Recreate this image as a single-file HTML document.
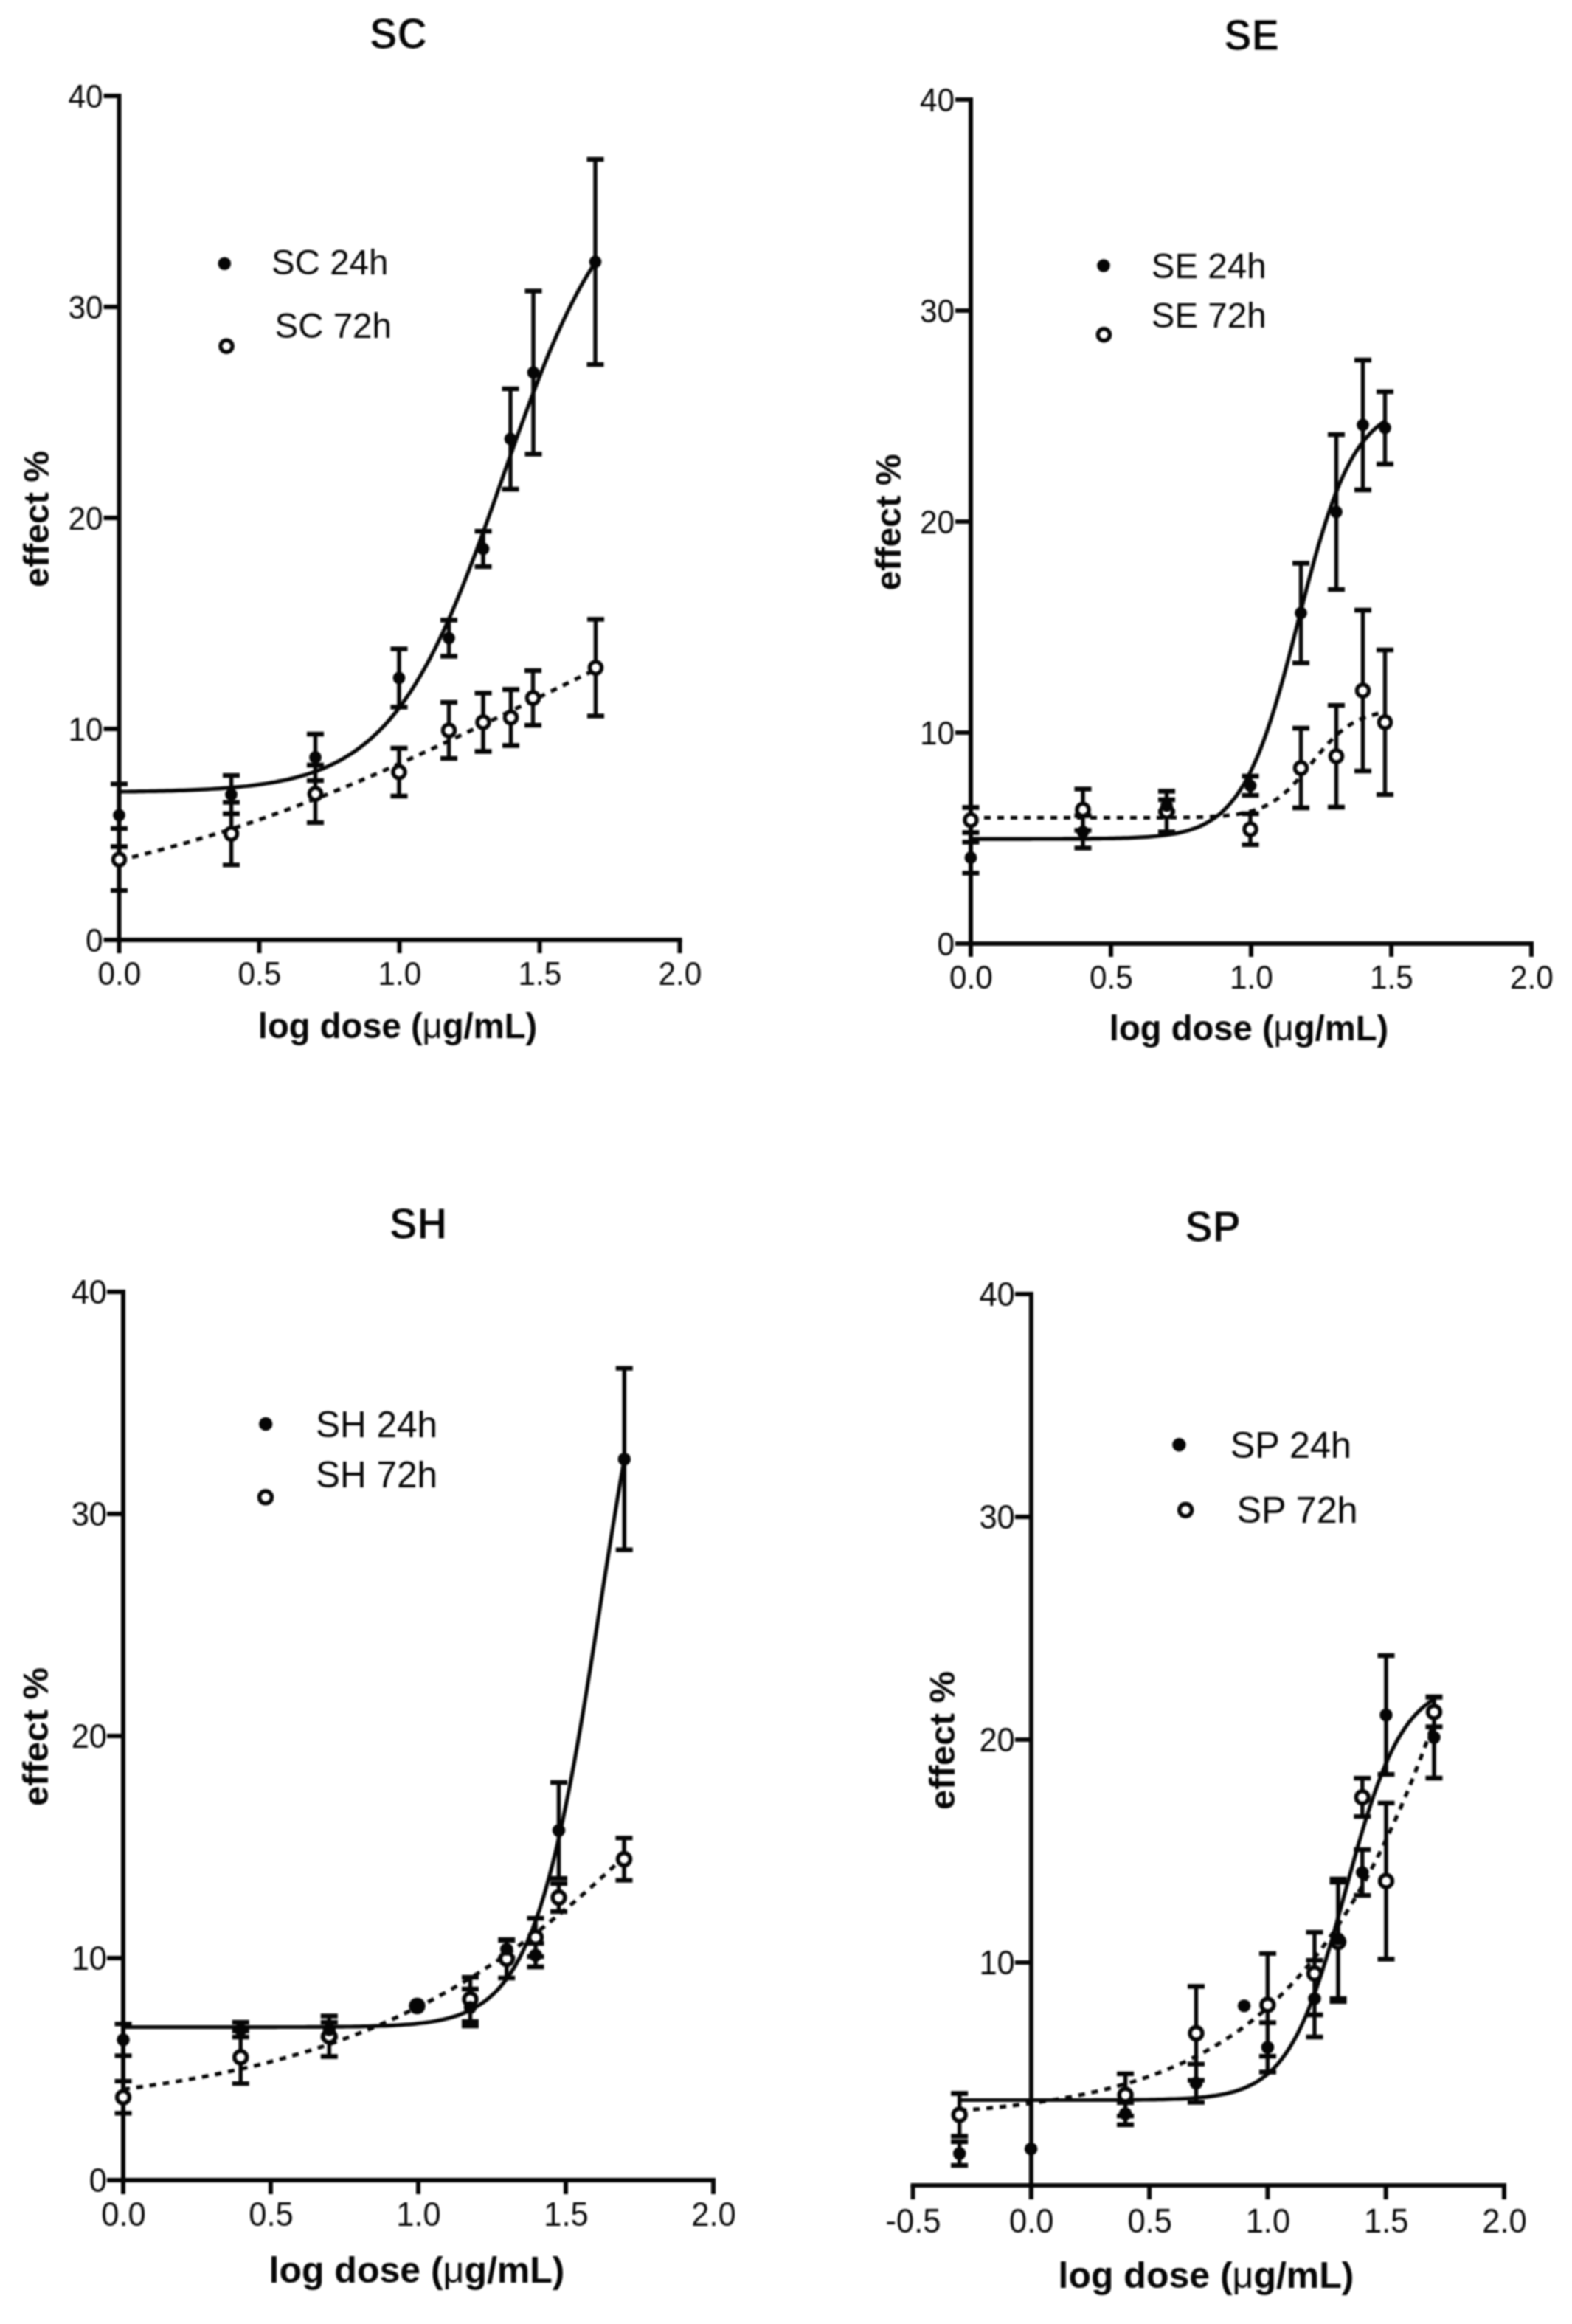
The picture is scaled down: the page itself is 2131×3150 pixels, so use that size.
<!DOCTYPE html>
<html lang="en"><head><meta charset="utf-8"><title>Dose-response curves</title>
<style>html,body{margin:0;padding:0;background:#fff}body{width:2131px;height:3150px;overflow:hidden}svg{display:block;filter:blur(1px)}</style>
</head><body>
<svg width="2131" height="3150" viewBox="0 0 2131 3150" font-family='"Liberation Sans", Arial, Helvetica, sans-serif'>
<rect width="2131" height="3150" fill="#fff"/>
<g id="SC" stroke="#050505" fill="none" stroke-linecap="butt">
<path d="M161.5 127.0V1277.0" stroke-width="6"/>
<path d="M158.5 1274.0H924.5" stroke-width="6"/>
<path d="M161.5 1274.0v18.0M351.5 1274.0v18.0M541.5 1274.0v18.0M731.5 1274.0v18.0M921.5 1274.0v18.0M161.5 1274.0h-21.0M161.5 988.0h-21.0M161.5 702.0h-21.0M161.5 416.0h-21.0M161.5 130.0h-21.0" stroke-width="6"/>
<polyline points="161.5,1073.1 166.9,1073.0 172.4,1073.0 177.8,1072.9 183.2,1072.8 188.6,1072.7 194.1,1072.6 199.5,1072.5 204.9,1072.4 210.3,1072.3 215.8,1072.2 221.2,1072.1 226.6,1071.9 232.0,1071.8 237.5,1071.6 242.9,1071.4 248.3,1071.3 253.7,1071.1 259.2,1070.8 264.6,1070.6 270.0,1070.4 275.4,1070.1 280.9,1069.8 286.3,1069.5 291.7,1069.2 297.1,1068.8 302.6,1068.4 308.0,1068.0 313.4,1067.6 318.8,1067.1 324.3,1066.6 329.7,1066.0 335.1,1065.5 340.5,1064.8 346.0,1064.1 351.4,1063.4 356.8,1062.6 362.2,1061.8 367.7,1060.9 373.1,1060.0 378.5,1058.9 383.9,1057.8 389.4,1056.7 394.8,1055.4 400.2,1054.0 405.6,1052.6 411.1,1051.0 416.5,1049.4 421.9,1047.6 427.3,1045.7 432.8,1043.7 438.2,1041.5 443.6,1039.2 449.0,1036.7 454.5,1034.0 459.9,1031.2 465.3,1028.2 470.7,1024.9 476.2,1021.5 481.6,1017.8 487.0,1013.9 492.4,1009.8 497.9,1005.4 503.3,1000.7 508.7,995.7 514.1,990.5 519.6,984.9 525.0,979.0 530.4,972.7 535.9,966.1 541.3,959.1 546.7,951.8 552.1,944.0 557.6,935.9 563.0,927.4 568.4,918.4 573.8,909.0 579.3,899.2 584.7,889.0 590.1,878.4 595.5,867.3 601.0,855.8 606.4,843.9 611.8,831.6 617.2,818.9 622.7,805.8 628.1,792.4 633.5,778.6 638.9,764.5 644.4,750.2 649.8,735.6 655.2,720.8 660.6,705.8 666.1,690.6 671.5,675.3 676.9,660.0 682.3,644.6 687.8,629.2 693.2,613.9 698.6,598.7 704.0,583.5 709.5,568.6 714.9,553.8 720.3,539.3 725.7,525.0 731.2,511.0 736.6,497.4 742.0,484.0 747.4,471.1 752.9,458.5 758.3,446.3 763.7,434.5 769.1,423.1 774.6,412.2 780.0,401.6 785.4,391.5 790.8,381.8 796.3,372.6 801.7,363.8 807.1,355.3" stroke-width="5.2" stroke-linejoin="round"/>
<polyline points="161.5,1166.0 166.9,1164.7 172.4,1163.4 177.8,1162.1 183.2,1160.7 188.6,1159.4 194.1,1158.0 199.5,1156.6 204.9,1155.3 210.3,1153.8 215.8,1152.4 221.2,1151.0 226.6,1149.5 232.0,1148.0 237.5,1146.5 242.9,1145.0 248.3,1143.5 253.7,1141.9 259.2,1140.3 264.6,1138.7 270.0,1137.1 275.4,1135.5 280.9,1133.9 286.3,1132.2 291.7,1130.6 297.1,1128.9 302.6,1127.2 308.0,1125.4 313.4,1123.7 318.8,1121.9 324.3,1120.1 329.7,1118.3 335.1,1116.5 340.5,1114.7 346.0,1112.9 351.4,1111.0 356.8,1109.1 362.2,1107.2 367.7,1105.3 373.1,1103.3 378.5,1101.4 383.9,1099.4 389.4,1097.4 394.8,1095.4 400.2,1093.4 405.6,1091.4 411.1,1089.3 416.5,1087.2 421.9,1085.1 427.3,1083.0 432.8,1080.9 438.2,1078.8 443.6,1076.6 449.0,1074.4 454.5,1072.2 459.9,1070.0 465.3,1067.8 470.7,1065.6 476.2,1063.3 481.6,1061.1 487.0,1058.8 492.4,1056.5 497.9,1054.2 503.3,1051.8 508.7,1049.5 514.1,1047.2 519.6,1044.8 525.0,1042.4 530.4,1040.0 535.9,1037.6 541.3,1035.2 546.7,1032.8 552.1,1030.3 557.6,1027.8 563.0,1025.4 568.4,1022.9 573.8,1020.4 579.3,1017.9 584.7,1015.4 590.1,1012.9 595.5,1010.3 601.0,1007.8 606.4,1005.2 611.8,1002.7 617.2,1000.1 622.7,997.5 628.1,995.0 633.5,992.4 638.9,989.8 644.4,987.2 649.8,984.5 655.2,981.9 660.6,979.3 666.1,976.7 671.5,974.0 676.9,971.4 682.3,968.7 687.8,966.1 693.2,963.4 698.6,960.8 704.0,958.1 709.5,955.5 714.9,952.8 720.3,950.1 725.7,947.5 731.2,944.8 736.6,942.1 742.0,939.5 747.4,936.8 752.9,934.1 758.3,931.5 763.7,928.8 769.1,926.2 774.6,923.5 780.0,920.8 785.4,918.2 790.8,915.5 796.3,912.9 801.7,910.3 807.1,907.6" stroke-width="5.2" stroke-linejoin="round" stroke-dasharray="9 9"/>
<path d="M161.5 1062.5V1147.5M313.5 1051.0V1103.0M427.5 995.0V1058.0M541.0 879.5V958.5M608.5 840.5V889.5M655.0 720.0V768.0M692.0 527.0V663.0M723.0 394.5V615.5M807.0 216.0V494.0M161.5 1123.0V1207.0M313.5 1087.7V1172.3M427.5 1037.0V1115.0M541.0 1014.0V1079.0M608.5 952.0V1028.0M655.0 939.5V1018.5M692.5 934.5V1010.5M722.5 909.0V983.0M807.5 839.5V970.5" stroke-width="5.5"/>
<path d="M150.0 1062.5h23.0M150.0 1147.5h23.0M302.0 1051.0h23.0M302.0 1103.0h23.0M416.0 995.0h23.0M416.0 1058.0h23.0M529.5 879.5h23.0M529.5 958.5h23.0M597.0 840.5h23.0M597.0 889.5h23.0M643.5 720.0h23.0M643.5 768.0h23.0M680.5 527.0h23.0M680.5 663.0h23.0M711.5 394.5h23.0M711.5 615.5h23.0M795.5 216.0h23.0M795.5 494.0h23.0M150.0 1123.0h23.0M150.0 1207.0h23.0M302.0 1087.7h23.0M302.0 1172.3h23.0M416.0 1037.0h23.0M416.0 1115.0h23.0M529.5 1014.0h23.0M529.5 1079.0h23.0M597.0 952.0h23.0M597.0 1028.0h23.0M643.5 939.5h23.0M643.5 1018.5h23.0M681.0 934.5h23.0M681.0 1010.5h23.0M711.0 909.0h23.0M711.0 983.0h23.0M796.0 839.5h23.0M796.0 970.5h23.0" stroke-width="6.3"/>
<circle cx="161.5" cy="1165.0" r="8.1" fill="#fff" stroke-width="5.4"/>
<circle cx="313.5" cy="1130.0" r="8.1" fill="#fff" stroke-width="5.4"/>
<circle cx="427.5" cy="1076.0" r="8.1" fill="#fff" stroke-width="5.4"/>
<circle cx="541.0" cy="1046.5" r="8.1" fill="#fff" stroke-width="5.4"/>
<circle cx="608.5" cy="990.0" r="8.1" fill="#fff" stroke-width="5.4"/>
<circle cx="655.0" cy="979.0" r="8.1" fill="#fff" stroke-width="5.4"/>
<circle cx="692.5" cy="972.5" r="8.1" fill="#fff" stroke-width="5.4"/>
<circle cx="722.5" cy="946.0" r="8.1" fill="#fff" stroke-width="5.4"/>
<circle cx="807.5" cy="905.0" r="8.1" fill="#fff" stroke-width="5.4"/>
<circle cx="161.5" cy="1105.0" r="8.4" fill="#050505" stroke="none"/>
<circle cx="313.5" cy="1077.0" r="8.4" fill="#050505" stroke="none"/>
<circle cx="427.5" cy="1026.5" r="8.4" fill="#050505" stroke="none"/>
<circle cx="541.0" cy="919.0" r="8.4" fill="#050505" stroke="none"/>
<circle cx="608.5" cy="865.0" r="8.4" fill="#050505" stroke="none"/>
<circle cx="655.0" cy="744.0" r="8.4" fill="#050505" stroke="none"/>
<circle cx="692.0" cy="595.0" r="8.4" fill="#050505" stroke="none"/>
<circle cx="723.0" cy="505.0" r="8.4" fill="#050505" stroke="none"/>
<circle cx="807.0" cy="355.0" r="8.4" fill="#050505" stroke="none"/>
<circle cx="304.3" cy="357.3" r="8.8" fill="#050505" stroke="none"/>
<circle cx="307" cy="469.2" r="8.1" fill="#fff" stroke-width="5.4"/>
</g>
<g fill="#050505">
<text transform="translate(162.0 1335.0) scale(0.9346 1)" font-size="45.3" text-anchor="middle">0.0</text>
<text transform="translate(352.0 1335.0) scale(0.9346 1)" font-size="45.3" text-anchor="middle">0.5</text>
<text transform="translate(542.0 1335.0) scale(0.9346 1)" font-size="45.3" text-anchor="middle">1.0</text>
<text transform="translate(732.0 1335.0) scale(0.9346 1)" font-size="45.3" text-anchor="middle">1.5</text>
<text transform="translate(922.0 1335.0) scale(0.9346 1)" font-size="45.3" text-anchor="middle">2.0</text>
<text transform="translate(139.5 1289.5) scale(0.9346 1)" font-size="45.3" text-anchor="end">0</text>
<text transform="translate(139.5 1003.5) scale(0.9346 1)" font-size="45.3" text-anchor="end">10</text>
<text transform="translate(139.5 717.5) scale(0.9346 1)" font-size="45.3" text-anchor="end">20</text>
<text transform="translate(139.5 431.5) scale(0.9346 1)" font-size="45.3" text-anchor="end">30</text>
<text transform="translate(139.5 145.5) scale(0.9346 1)" font-size="45.3" text-anchor="end">40</text>
<text x="368.0" y="372" font-size="47.5">SC 24h</text>
<text x="372.5" y="457.5" font-size="47.5">SC 72h</text>
<text transform="translate(540 65.7) scale(0.97 1.035)" font-size="58" font-weight="bold" text-anchor="middle" stroke="#fff" stroke-width="1.2">SC</text>
<text x="539" y="1407" font-size="47.2" font-weight="bold" text-anchor="middle">log dose (<tspan font-weight="normal">μ</tspan>g/mL)</text>
<text transform="translate(65.5 703.3) rotate(-90)" font-size="48.3" font-weight="bold" text-anchor="middle">effect %</text>
</g>
<g id="SE" stroke="#050505" fill="none" stroke-linecap="butt">
<path d="M1316.0 132.0V1282.0" stroke-width="6"/>
<path d="M1313.0 1279.0H2079.0" stroke-width="6"/>
<path d="M1316.0 1279.0v18.0M1506.0 1279.0v18.0M1696.0 1279.0v18.0M1886.0 1279.0v18.0M2076.0 1279.0v18.0M1316.0 1279.0h-21.0M1316.0 993.0h-21.0M1316.0 707.0h-21.0M1316.0 421.0h-21.0M1316.0 135.0h-21.0" stroke-width="6"/>
<polyline points="1316.0,1137.1 1320.7,1137.1 1325.4,1137.1 1330.1,1137.1 1334.9,1137.1 1339.6,1137.1 1344.3,1137.1 1349.0,1137.1 1353.7,1137.1 1358.4,1137.1 1363.2,1137.1 1367.9,1137.1 1372.6,1137.1 1377.3,1137.1 1382.0,1137.1 1386.7,1137.1 1391.5,1137.1 1396.2,1137.1 1400.9,1137.0 1405.6,1137.0 1410.3,1137.0 1415.0,1137.0 1419.8,1137.0 1424.5,1137.0 1429.2,1137.0 1433.9,1137.0 1438.6,1137.0 1443.3,1136.9 1448.1,1136.9 1452.8,1136.9 1457.5,1136.9 1462.2,1136.9 1466.9,1136.8 1471.6,1136.8 1476.4,1136.8 1481.1,1136.7 1485.8,1136.7 1490.5,1136.6 1495.2,1136.5 1499.9,1136.5 1504.7,1136.4 1509.4,1136.3 1514.1,1136.2 1518.8,1136.1 1523.5,1135.9 1528.2,1135.8 1533.0,1135.6 1537.7,1135.4 1542.4,1135.2 1547.1,1134.9 1551.8,1134.6 1556.5,1134.3 1561.3,1133.9 1566.0,1133.5 1570.7,1133.0 1575.4,1132.5 1580.1,1131.9 1584.8,1131.2 1589.6,1130.5 1594.3,1129.6 1599.0,1128.6 1603.7,1127.5 1608.4,1126.3 1613.1,1124.9 1617.9,1123.3 1622.6,1121.6 1627.3,1119.6 1632.0,1117.4 1636.7,1114.8 1641.4,1112.0 1646.2,1108.9 1650.9,1105.4 1655.6,1101.4 1660.3,1097.0 1665.0,1092.1 1669.7,1086.7 1674.5,1080.7 1679.2,1074.0 1683.9,1066.7 1688.6,1058.7 1693.3,1049.8 1698.0,1040.2 1702.8,1029.7 1707.5,1018.4 1712.2,1006.2 1716.9,993.1 1721.6,979.2 1726.3,964.4 1731.0,948.9 1735.8,932.6 1740.5,915.7 1745.2,898.3 1749.9,880.4 1754.6,862.2 1759.3,843.9 1764.1,825.6 1768.8,807.4 1773.5,789.4 1778.2,771.8 1782.9,754.7 1787.6,738.2 1792.4,722.4 1797.1,707.4 1801.8,693.2 1806.5,679.9 1811.2,667.4 1815.9,655.8 1820.7,645.0 1825.4,635.1 1830.1,626.0 1834.8,617.7 1839.5,610.2 1844.2,603.3 1849.0,597.1 1853.7,591.5 1858.4,586.4 1863.1,581.9 1867.8,577.8 1872.5,574.2 1877.3,570.9" stroke-width="5.2" stroke-linejoin="round"/>
<polyline points="1316.0,1108.4 1320.7,1108.4 1325.4,1108.4 1330.1,1108.4 1334.9,1108.4 1339.6,1108.4 1344.3,1108.4 1349.0,1108.4 1353.7,1108.4 1358.4,1108.4 1363.2,1108.4 1367.9,1108.4 1372.6,1108.4 1377.3,1108.4 1382.0,1108.4 1386.7,1108.4 1391.5,1108.4 1396.2,1108.4 1400.9,1108.4 1405.6,1108.4 1410.3,1108.4 1415.0,1108.4 1419.8,1108.4 1424.5,1108.4 1429.2,1108.4 1433.9,1108.4 1438.6,1108.4 1443.3,1108.4 1448.1,1108.4 1452.8,1108.4 1457.5,1108.4 1462.2,1108.4 1466.9,1108.4 1471.6,1108.4 1476.4,1108.4 1481.1,1108.4 1485.8,1108.4 1490.5,1108.4 1495.2,1108.4 1499.9,1108.4 1504.7,1108.4 1509.4,1108.4 1514.1,1108.4 1518.8,1108.4 1523.5,1108.4 1528.2,1108.4 1533.0,1108.4 1537.7,1108.4 1542.4,1108.4 1547.1,1108.4 1551.8,1108.4 1556.5,1108.3 1561.3,1108.3 1566.0,1108.3 1570.7,1108.3 1575.4,1108.3 1580.1,1108.2 1584.8,1108.2 1589.6,1108.2 1594.3,1108.1 1599.0,1108.1 1603.7,1108.0 1608.4,1107.9 1613.1,1107.8 1617.9,1107.8 1622.6,1107.6 1627.3,1107.5 1632.0,1107.3 1636.7,1107.2 1641.4,1106.9 1646.2,1106.7 1650.9,1106.4 1655.6,1106.0 1660.3,1105.6 1665.0,1105.2 1669.7,1104.6 1674.5,1104.0 1679.2,1103.3 1683.9,1102.4 1688.6,1101.4 1693.3,1100.3 1698.0,1099.0 1702.8,1097.5 1707.5,1095.8 1712.2,1093.8 1716.9,1091.6 1721.6,1089.1 1726.3,1086.3 1731.0,1083.1 1735.8,1079.6 1740.5,1075.7 1745.2,1071.5 1749.9,1066.9 1754.6,1062.0 1759.3,1056.9 1764.1,1051.4 1768.8,1045.8 1773.5,1040.0 1778.2,1034.1 1782.9,1028.3 1787.6,1022.5 1792.4,1016.9 1797.1,1011.4 1801.8,1006.3 1806.5,1001.4 1811.2,996.9 1815.9,992.7 1820.7,988.9 1825.4,985.5 1830.1,982.3 1834.8,979.5 1839.5,977.1 1844.2,974.9 1849.0,972.9 1853.7,971.3 1858.4,969.8 1863.1,968.5 1867.8,967.4 1872.5,966.4 1877.3,965.6" stroke-width="5.2" stroke-linejoin="round" stroke-dasharray="9 9"/>
<path d="M1316.0 1141.5V1183.5M1468.0 1105.5V1149.5M1581.5 1084.0V1100.0M1695.0 1052.0V1078.0M1763.5 763.5V898.5M1811.5 589.0V799.0M1847.5 488.0V664.0M1877.5 531.0V629.0M1316.0 1094.5V1128.5M1468.0 1069.5V1125.5M1581.5 1072.5V1127.5M1695.0 1103.0V1145.0M1763.5 987.0V1095.0M1811.5 956.0V1094.0M1847.5 827.0V1045.0M1877.5 881.0V1077.0" stroke-width="5.5"/>
<path d="M1304.5 1141.5h23.0M1304.5 1183.5h23.0M1456.5 1105.5h23.0M1456.5 1149.5h23.0M1570.0 1084.0h23.0M1570.0 1100.0h23.0M1683.5 1052.0h23.0M1683.5 1078.0h23.0M1752.0 763.5h23.0M1752.0 898.5h23.0M1800.0 589.0h23.0M1800.0 799.0h23.0M1836.0 488.0h23.0M1836.0 664.0h23.0M1866.0 531.0h23.0M1866.0 629.0h23.0M1304.5 1094.5h23.0M1304.5 1128.5h23.0M1456.5 1069.5h23.0M1456.5 1125.5h23.0M1570.0 1072.5h23.0M1570.0 1127.5h23.0M1683.5 1103.0h23.0M1683.5 1145.0h23.0M1752.0 987.0h23.0M1752.0 1095.0h23.0M1800.0 956.0h23.0M1800.0 1094.0h23.0M1836.0 827.0h23.0M1836.0 1045.0h23.0M1866.0 881.0h23.0M1866.0 1077.0h23.0" stroke-width="6.3"/>
<circle cx="1316.0" cy="1111.5" r="8.1" fill="#fff" stroke-width="5.4"/>
<circle cx="1468.0" cy="1097.5" r="8.1" fill="#fff" stroke-width="5.4"/>
<circle cx="1581.5" cy="1100.0" r="8.1" fill="#fff" stroke-width="5.4"/>
<circle cx="1695.0" cy="1124.0" r="8.1" fill="#fff" stroke-width="5.4"/>
<circle cx="1763.5" cy="1041.0" r="8.1" fill="#fff" stroke-width="5.4"/>
<circle cx="1811.5" cy="1025.0" r="8.1" fill="#fff" stroke-width="5.4"/>
<circle cx="1847.5" cy="936.0" r="8.1" fill="#fff" stroke-width="5.4"/>
<circle cx="1877.5" cy="979.0" r="8.1" fill="#fff" stroke-width="5.4"/>
<circle cx="1316.0" cy="1162.5" r="8.4" fill="#050505" stroke="none"/>
<circle cx="1468.0" cy="1127.5" r="8.4" fill="#050505" stroke="none"/>
<circle cx="1581.5" cy="1092.0" r="8.4" fill="#050505" stroke="none"/>
<circle cx="1695.0" cy="1065.0" r="8.4" fill="#050505" stroke="none"/>
<circle cx="1763.5" cy="831.0" r="8.4" fill="#050505" stroke="none"/>
<circle cx="1811.5" cy="694.0" r="8.4" fill="#050505" stroke="none"/>
<circle cx="1847.5" cy="576.0" r="8.4" fill="#050505" stroke="none"/>
<circle cx="1877.5" cy="580.0" r="8.4" fill="#050505" stroke="none"/>
<circle cx="1496" cy="360" r="8.8" fill="#050505" stroke="none"/>
<circle cx="1496.4" cy="453.7" r="8.1" fill="#fff" stroke-width="5.4"/>
</g>
<g fill="#050505">
<text transform="translate(1316.5 1340.0) scale(0.9346 1)" font-size="45.3" text-anchor="middle">0.0</text>
<text transform="translate(1506.5 1340.0) scale(0.9346 1)" font-size="45.3" text-anchor="middle">0.5</text>
<text transform="translate(1696.5 1340.0) scale(0.9346 1)" font-size="45.3" text-anchor="middle">1.0</text>
<text transform="translate(1886.5 1340.0) scale(0.9346 1)" font-size="45.3" text-anchor="middle">1.5</text>
<text transform="translate(2076.5 1340.0) scale(0.9346 1)" font-size="45.3" text-anchor="middle">2.0</text>
<text transform="translate(1294.0 1294.5) scale(0.9346 1)" font-size="45.3" text-anchor="end">0</text>
<text transform="translate(1294.0 1008.5) scale(0.9346 1)" font-size="45.3" text-anchor="end">10</text>
<text transform="translate(1294.0 722.5) scale(0.9346 1)" font-size="45.3" text-anchor="end">20</text>
<text transform="translate(1294.0 436.5) scale(0.9346 1)" font-size="45.3" text-anchor="end">30</text>
<text transform="translate(1294.0 150.5) scale(0.9346 1)" font-size="45.3" text-anchor="end">40</text>
<text x="1560.8" y="376.8" font-size="47.5">SE 24h</text>
<text x="1560.8" y="443.9" font-size="47.5">SE 72h</text>
<text transform="translate(1696.7 67.60000000000001) scale(0.97 1.035)" font-size="58" font-weight="bold" text-anchor="middle" stroke="#fff" stroke-width="1.2">SE</text>
<text x="1693" y="1410" font-size="47.2" font-weight="bold" text-anchor="middle">log dose (<tspan font-weight="normal">μ</tspan>g/mL)</text>
<text transform="translate(1221 708) rotate(-90)" font-size="48.3" font-weight="bold" text-anchor="middle">effect %</text>
</g>
<g id="SH" stroke="#050505" fill="none" stroke-linecap="butt">
<path d="M167.0 1748.0V2958.0" stroke-width="6"/>
<path d="M164.0 2955.0H970.0" stroke-width="6"/>
<path d="M167.0 2955.0v18.954M367.0 2955.0v18.954M567.0 2955.0v18.954M767.0 2955.0v18.954M967.0 2955.0v18.954M167.0 2955.0h-21.954M167.0 2654.0h-21.954M167.0 2353.0h-21.954M167.0 2052.0h-21.954M167.0 1751.0h-21.954" stroke-width="6"/>
<polyline points="167.0,2747.6 172.7,2747.6 178.4,2747.6 184.1,2747.6 189.8,2747.6 195.6,2747.6 201.3,2747.6 207.0,2747.6 212.7,2747.6 218.4,2747.6 224.1,2747.6 229.8,2747.6 235.5,2747.6 241.2,2747.6 247.0,2747.6 252.7,2747.6 258.4,2747.6 264.1,2747.6 269.8,2747.6 275.5,2747.6 281.2,2747.6 286.9,2747.6 292.6,2747.6 298.4,2747.6 304.1,2747.6 309.8,2747.6 315.5,2747.6 321.2,2747.6 326.9,2747.6 332.6,2747.6 338.3,2747.6 344.0,2747.6 349.7,2747.6 355.5,2747.6 361.2,2747.6 366.9,2747.6 372.6,2747.6 378.3,2747.5 384.0,2747.5 389.7,2747.5 395.4,2747.5 401.1,2747.5 406.9,2747.5 412.6,2747.5 418.3,2747.4 424.0,2747.4 429.7,2747.4 435.4,2747.4 441.1,2747.3 446.8,2747.3 452.5,2747.2 458.3,2747.2 464.0,2747.1 469.7,2747.0 475.4,2747.0 481.1,2746.9 486.8,2746.8 492.5,2746.7 498.2,2746.5 503.9,2746.4 509.7,2746.2 515.4,2746.0 521.1,2745.8 526.8,2745.6 532.5,2745.3 538.2,2745.0 543.9,2744.6 549.6,2744.2 555.3,2743.8 561.1,2743.3 566.8,2742.7 572.5,2742.0 578.2,2741.3 583.9,2740.5 589.6,2739.5 595.3,2738.4 601.0,2737.2 606.7,2735.8 612.5,2734.3 618.2,2732.5 623.9,2730.5 629.6,2728.2 635.3,2725.7 641.0,2722.8 646.7,2719.6 652.4,2715.9 658.1,2711.8 663.9,2707.2 669.6,2702.0 675.3,2696.2 681.0,2689.6 686.7,2682.3 692.4,2674.1 698.1,2665.0 703.8,2654.8 709.5,2643.5 715.2,2631.0 721.0,2617.1 726.7,2601.8 732.4,2585.1 738.1,2566.7 743.8,2546.7 749.5,2525.0 755.2,2501.6 760.9,2476.4 766.6,2449.4 772.4,2420.8 778.1,2390.6 783.8,2359.0 789.5,2326.0 795.2,2291.9 800.9,2256.8 806.6,2221.2 812.3,2185.1 818.0,2148.9 823.8,2112.9 829.5,2077.4 835.2,2042.6 840.9,2008.7 846.6,1976.1" stroke-width="5.2" stroke-linejoin="round"/>
<polyline points="167.0,2831.8 172.7,2831.0 178.4,2830.3 184.1,2829.5 189.8,2828.8 195.6,2828.0 201.3,2827.2 207.0,2826.3 212.7,2825.5 218.4,2824.6 224.1,2823.7 229.8,2822.8 235.5,2821.9 241.2,2821.0 247.0,2820.0 252.7,2819.0 258.4,2818.0 264.1,2817.0 269.8,2816.0 275.5,2814.9 281.2,2813.8 286.9,2812.7 292.6,2811.6 298.4,2810.4 304.1,2809.2 309.8,2808.0 315.5,2806.8 321.2,2805.6 326.9,2804.3 332.6,2803.0 338.3,2801.6 344.0,2800.3 349.7,2798.9 355.5,2797.5 361.2,2796.0 366.9,2794.5 372.6,2793.0 378.3,2791.5 384.0,2789.9 389.7,2788.3 395.4,2786.7 401.1,2785.0 406.9,2783.4 412.6,2781.6 418.3,2779.9 424.0,2778.1 429.7,2776.2 435.4,2774.4 441.1,2772.5 446.8,2770.5 452.5,2768.6 458.3,2766.5 464.0,2764.5 469.7,2762.4 475.4,2760.3 481.1,2758.1 486.8,2755.9 492.5,2753.6 498.2,2751.3 503.9,2749.0 509.7,2746.6 515.4,2744.2 521.1,2741.7 526.8,2739.2 532.5,2736.7 538.2,2734.1 543.9,2731.4 549.6,2728.7 555.3,2726.0 561.1,2723.2 566.8,2720.4 572.5,2717.5 578.2,2714.6 583.9,2711.6 589.6,2708.6 595.3,2705.5 601.0,2702.3 606.7,2699.2 612.5,2695.9 618.2,2692.6 623.9,2689.3 629.6,2685.9 635.3,2682.4 641.0,2678.9 646.7,2675.4 652.4,2671.8 658.1,2668.1 663.9,2664.4 669.6,2660.6 675.3,2656.8 681.0,2652.9 686.7,2649.0 692.4,2645.0 698.1,2640.9 703.8,2636.8 709.5,2632.6 715.2,2628.4 721.0,2624.1 726.7,2619.8 732.4,2615.4 738.1,2610.9 743.8,2606.4 749.5,2601.8 755.2,2597.2 760.9,2592.5 766.6,2587.8 772.4,2583.0 778.1,2578.2 783.8,2573.3 789.5,2568.3 795.2,2563.3 800.9,2558.2 806.6,2553.1 812.3,2547.9 818.0,2542.7 823.8,2537.4 829.5,2532.1 835.2,2526.7 840.9,2521.3 846.6,2515.8" stroke-width="5.2" stroke-linejoin="round" stroke-dasharray="9 9"/>
<path d="M167.0 2743.3V2786.3M326.2 2741.0V2761.0M446.3 2741.0V2761.0M637.5 2696.0V2746.0M686.8 2630.0V2654.0M726.0 2634.0V2666.0M757.5 2416.0V2546.0M846.3 1854.7V2100.7M167.0 2820.9V2864.3M326.2 2752.7V2824.1M446.3 2732.5V2787.5M637.5 2680.0V2740.0M686.8 2629.0V2681.0M726.0 2600.0V2652.0M757.5 2553.0V2591.0M846.0 2491.4V2548.6" stroke-width="5.5"/>
<path d="M155.5 2743.3h23.0M155.5 2786.3h23.0M314.7 2741.0h23.0M314.7 2761.0h23.0M434.8 2741.0h23.0M434.8 2761.0h23.0M626.0 2696.0h23.0M626.0 2746.0h23.0M675.3 2630.0h23.0M675.3 2654.0h23.0M714.5 2634.0h23.0M714.5 2666.0h23.0M746.0 2416.0h23.0M746.0 2546.0h23.0M834.8 1854.7h23.0M834.8 2100.7h23.0M155.5 2820.9h23.0M155.5 2864.3h23.0M314.7 2752.7h23.0M314.7 2824.1h23.0M434.8 2732.5h23.0M434.8 2787.5h23.0M626.0 2680.0h23.0M626.0 2740.0h23.0M675.3 2629.0h23.0M675.3 2681.0h23.0M714.5 2600.0h23.0M714.5 2652.0h23.0M746.0 2553.0h23.0M746.0 2591.0h23.0M834.5 2491.4h23.0M834.5 2548.6h23.0" stroke-width="6.3"/>
<circle cx="167.0" cy="2842.6" r="8.4" fill="#fff" stroke-width="5.6"/>
<circle cx="326.2" cy="2788.4" r="8.4" fill="#fff" stroke-width="5.6"/>
<circle cx="446.3" cy="2760.0" r="8.4" fill="#fff" stroke-width="5.6"/>
<circle cx="565.5" cy="2719.0" r="8.4" fill="#fff" stroke-width="5.6"/>
<circle cx="637.5" cy="2710.0" r="8.4" fill="#fff" stroke-width="5.6"/>
<circle cx="686.8" cy="2655.0" r="8.4" fill="#fff" stroke-width="5.6"/>
<circle cx="726.0" cy="2626.0" r="8.4" fill="#fff" stroke-width="5.6"/>
<circle cx="757.5" cy="2572.0" r="8.4" fill="#fff" stroke-width="5.6"/>
<circle cx="846.0" cy="2520.0" r="8.4" fill="#fff" stroke-width="5.6"/>
<circle cx="167.0" cy="2764.8" r="8.8" fill="#050505" stroke="none"/>
<circle cx="326.2" cy="2751.0" r="8.8" fill="#050505" stroke="none"/>
<circle cx="446.3" cy="2751.0" r="8.8" fill="#050505" stroke="none"/>
<circle cx="565.5" cy="2719.0" r="10.5" fill="#050505" stroke="none"/>
<circle cx="637.5" cy="2721.0" r="8.8" fill="#050505" stroke="none"/>
<circle cx="686.8" cy="2642.0" r="8.8" fill="#050505" stroke="none"/>
<circle cx="726.0" cy="2650.0" r="8.8" fill="#050505" stroke="none"/>
<circle cx="757.5" cy="2481.0" r="8.8" fill="#050505" stroke="none"/>
<circle cx="846.3" cy="1977.7" r="8.8" fill="#050505" stroke="none"/>
<circle cx="360.2" cy="1930" r="9.200000000000001" fill="#050505" stroke="none"/>
<circle cx="360" cy="2029.4" r="8.4" fill="#fff" stroke-width="5.6"/>
</g>
<g fill="#050505">
<text transform="translate(167.5 3017.2) scale(0.9346 1)" font-size="46.5" text-anchor="middle">0.0</text>
<text transform="translate(367.5 3017.2) scale(0.9346 1)" font-size="46.5" text-anchor="middle">0.5</text>
<text transform="translate(567.5 3017.2) scale(0.9346 1)" font-size="46.5" text-anchor="middle">1.0</text>
<text transform="translate(767.5 3017.2) scale(0.9346 1)" font-size="46.5" text-anchor="middle">1.5</text>
<text transform="translate(967.5 3017.2) scale(0.9346 1)" font-size="46.5" text-anchor="middle">2.0</text>
<text transform="translate(145.0 2970.5) scale(0.9346 1)" font-size="46.5" text-anchor="end">0</text>
<text transform="translate(145.0 2669.5) scale(0.9346 1)" font-size="46.5" text-anchor="end">10</text>
<text transform="translate(145.0 2368.5) scale(0.9346 1)" font-size="46.5" text-anchor="end">20</text>
<text transform="translate(145.0 2067.5) scale(0.9346 1)" font-size="46.5" text-anchor="end">30</text>
<text transform="translate(145.0 1766.5) scale(0.9346 1)" font-size="46.5" text-anchor="end">40</text>
<text x="428.0" y="1947.6" font-size="49.5">SH 24h</text>
<text x="428.0" y="2016" font-size="49.5">SH 72h</text>
<text transform="translate(567 1679.2) scale(0.97 1.035)" font-size="58" font-weight="bold" text-anchor="middle" stroke="#fff" stroke-width="1.2">SH</text>
<text x="565" y="3094" font-size="50.0" font-weight="bold" text-anchor="middle">log dose (<tspan font-weight="normal">μ</tspan>g/mL)</text>
<text transform="translate(65 2354) rotate(-90)" font-size="49.0" font-weight="bold" text-anchor="middle">effect %</text>
</g>
<g id="SP" stroke="#050505" fill="none" stroke-linecap="butt">
<path d="M1397.8 1751.0V2981.0" stroke-width="6"/>
<path d="M1234.5 2962.0H2042.0" stroke-width="6"/>
<path d="M1237.5 2962.0v18.954M1397.8 2962.0v18.954M1558.1 2962.0v18.954M1718.4 2962.0v18.954M1878.7 2962.0v18.954M2039.0 2962.0v18.954M1397.8 2660.0h-21.954M1397.8 2358.0h-21.954M1397.8 2056.0h-21.954M1397.8 1754.0h-21.954" stroke-width="6"/>
<polyline points="1301.3,2846.5 1306.7,2846.5 1312.1,2846.5 1317.5,2846.5 1322.9,2846.5 1328.2,2846.5 1333.6,2846.5 1339.0,2846.5 1344.4,2846.5 1349.8,2846.5 1355.2,2846.5 1360.6,2846.5 1366.0,2846.5 1371.3,2846.5 1376.7,2846.5 1382.1,2846.5 1387.5,2846.5 1392.9,2846.5 1398.3,2846.5 1403.7,2846.5 1409.1,2846.5 1414.5,2846.5 1419.8,2846.5 1425.2,2846.5 1430.6,2846.5 1436.0,2846.5 1441.4,2846.5 1446.8,2846.5 1452.2,2846.5 1457.6,2846.5 1462.9,2846.5 1468.3,2846.5 1473.7,2846.5 1479.1,2846.5 1484.5,2846.4 1489.9,2846.4 1495.3,2846.4 1500.7,2846.4 1506.1,2846.4 1511.4,2846.3 1516.8,2846.3 1522.2,2846.3 1527.6,2846.3 1533.0,2846.2 1538.4,2846.2 1543.8,2846.1 1549.2,2846.0 1554.5,2846.0 1559.9,2845.9 1565.3,2845.8 1570.7,2845.7 1576.1,2845.6 1581.5,2845.4 1586.9,2845.2 1592.3,2845.0 1597.7,2844.8 1603.0,2844.6 1608.4,2844.3 1613.8,2844.0 1619.2,2843.6 1624.6,2843.1 1630.0,2842.6 1635.4,2842.1 1640.8,2841.4 1646.1,2840.7 1651.5,2839.8 1656.9,2838.8 1662.3,2837.7 1667.7,2836.4 1673.1,2835.0 1678.5,2833.3 1683.9,2831.4 1689.3,2829.2 1694.6,2826.7 1700.0,2823.9 1705.4,2820.7 1710.8,2817.0 1716.2,2812.9 1721.6,2808.3 1727.0,2803.1 1732.4,2797.2 1737.7,2790.6 1743.1,2783.2 1748.5,2775.0 1753.9,2765.9 1759.3,2755.9 1764.7,2744.8 1770.1,2732.8 1775.5,2719.7 1780.9,2705.5 1786.2,2690.4 1791.6,2674.2 1797.0,2657.2 1802.4,2639.4 1807.8,2620.9 1813.2,2601.8 1818.6,2582.4 1824.0,2562.8 1829.3,2543.2 1834.7,2523.7 1840.1,2504.7 1845.5,2486.1 1850.9,2468.3 1856.3,2451.2 1861.7,2435.0 1867.1,2419.8 1872.5,2405.6 1877.8,2392.4 1883.2,2380.3 1888.6,2369.2 1894.0,2359.1 1899.4,2350.0 1904.8,2341.8 1910.2,2334.3 1915.6,2327.7 1920.9,2321.8 1926.3,2316.5 1931.7,2311.8 1937.1,2307.7 1942.5,2304.0" stroke-width="5.2" stroke-linejoin="round"/>
<polyline points="1301.3,2860.7 1306.7,2860.3 1312.1,2859.9 1317.5,2859.4 1322.9,2858.9 1328.2,2858.5 1333.6,2858.0 1339.0,2857.5 1344.4,2856.9 1349.8,2856.4 1355.2,2855.8 1360.6,2855.3 1366.0,2854.7 1371.3,2854.0 1376.7,2853.4 1382.1,2852.7 1387.5,2852.1 1392.9,2851.4 1398.3,2850.6 1403.7,2849.9 1409.1,2849.1 1414.5,2848.3 1419.8,2847.5 1425.2,2846.6 1430.6,2845.8 1436.0,2844.9 1441.4,2843.9 1446.8,2842.9 1452.2,2842.0 1457.6,2840.9 1462.9,2839.9 1468.3,2838.8 1473.7,2837.6 1479.1,2836.4 1484.5,2835.2 1489.9,2834.0 1495.3,2832.7 1500.7,2831.4 1506.1,2830.0 1511.4,2828.6 1516.8,2827.1 1522.2,2825.6 1527.6,2824.0 1533.0,2822.4 1538.4,2820.8 1543.8,2819.0 1549.2,2817.3 1554.5,2815.4 1559.9,2813.6 1565.3,2811.6 1570.7,2809.6 1576.1,2807.5 1581.5,2805.4 1586.9,2803.2 1592.3,2800.9 1597.7,2798.5 1603.0,2796.1 1608.4,2793.6 1613.8,2791.0 1619.2,2788.4 1624.6,2785.6 1630.0,2782.8 1635.4,2779.8 1640.8,2776.8 1646.1,2773.7 1651.5,2770.5 1656.9,2767.2 1662.3,2763.7 1667.7,2760.2 1673.1,2756.6 1678.5,2752.8 1683.9,2749.0 1689.3,2745.0 1694.6,2740.9 1700.0,2736.6 1705.4,2732.3 1710.8,2727.7 1716.2,2723.1 1721.6,2718.3 1727.0,2713.4 1732.4,2708.3 1737.7,2703.0 1743.1,2697.6 1748.5,2692.1 1753.9,2686.3 1759.3,2680.4 1764.7,2674.4 1770.1,2668.1 1775.5,2661.6 1780.9,2655.0 1786.2,2648.1 1791.6,2641.1 1797.0,2633.8 1802.4,2626.3 1807.8,2618.7 1813.2,2610.7 1818.6,2602.6 1824.0,2594.2 1829.3,2585.6 1834.7,2576.7 1840.1,2567.6 1845.5,2558.2 1850.9,2548.5 1856.3,2538.6 1861.7,2528.4 1867.1,2517.9 1872.5,2507.1 1877.8,2496.0 1883.2,2484.6 1888.6,2472.9 1894.0,2460.9 1899.4,2448.6 1904.8,2435.9 1910.2,2422.9 1915.6,2409.5 1920.9,2395.8 1926.3,2381.8 1931.7,2367.3 1937.1,2352.5 1942.5,2337.4" stroke-width="5.2" stroke-linejoin="round" stroke-dasharray="9 9"/>
<path d="M1300.7 2903.0V2935.0M1525.6 2850.0V2880.0M1621.5 2797.6V2849.6M1718.4 2741.5V2808.5M1782.0 2657.0V2761.0M1814.0 2547.0V2709.0M1846.8 2507.0V2569.0M1879.0 2244.0V2405.0M1944.0 2300.0V2410.0M1300.7 2837.5V2895.5M1525.6 2810.8V2868.2M1621.5 2692.4V2819.6M1718.4 2647.9V2787.1M1782.0 2619.0V2731.0M1814.0 2551.0V2713.0M1846.8 2410.2V2462.2M1879.0 2443.9V2655.5M1944.0 2300.5V2340.5" stroke-width="5.5"/>
<path d="M1289.2 2903.0h23.0M1289.2 2935.0h23.0M1514.1 2850.0h23.0M1514.1 2880.0h23.0M1610.0 2797.6h23.0M1610.0 2849.6h23.0M1706.9 2741.5h23.0M1706.9 2808.5h23.0M1770.5 2657.0h23.0M1770.5 2761.0h23.0M1802.5 2547.0h23.0M1802.5 2709.0h23.0M1835.3 2507.0h23.0M1835.3 2569.0h23.0M1867.5 2244.0h23.0M1867.5 2405.0h23.0M1932.5 2300.0h23.0M1932.5 2410.0h23.0M1289.2 2837.5h23.0M1289.2 2895.5h23.0M1514.1 2810.8h23.0M1514.1 2868.2h23.0M1610.0 2692.4h23.0M1610.0 2819.6h23.0M1706.9 2647.9h23.0M1706.9 2787.1h23.0M1770.5 2619.0h23.0M1770.5 2731.0h23.0M1802.5 2551.0h23.0M1802.5 2713.0h23.0M1835.3 2410.2h23.0M1835.3 2462.2h23.0M1867.5 2443.9h23.0M1867.5 2655.5h23.0M1932.5 2300.5h23.0M1932.5 2340.5h23.0" stroke-width="6.3"/>
<circle cx="1300.7" cy="2866.5" r="8.4" fill="#fff" stroke-width="5.6"/>
<circle cx="1525.6" cy="2839.5" r="8.4" fill="#fff" stroke-width="5.6"/>
<circle cx="1621.5" cy="2756.0" r="8.4" fill="#fff" stroke-width="5.6"/>
<circle cx="1718.4" cy="2717.5" r="8.4" fill="#fff" stroke-width="5.6"/>
<circle cx="1782.0" cy="2675.0" r="8.4" fill="#fff" stroke-width="5.6"/>
<circle cx="1814.0" cy="2632.0" r="8.4" fill="#fff" stroke-width="5.6"/>
<circle cx="1846.8" cy="2436.2" r="8.4" fill="#fff" stroke-width="5.6"/>
<circle cx="1879.0" cy="2549.7" r="8.4" fill="#fff" stroke-width="5.6"/>
<circle cx="1944.0" cy="2320.5" r="8.4" fill="#fff" stroke-width="5.6"/>
<circle cx="1300.7" cy="2919.0" r="8.8" fill="#050505" stroke="none"/>
<circle cx="1397.6" cy="2912.6" r="8.8" fill="#050505" stroke="none"/>
<circle cx="1525.6" cy="2865.0" r="8.8" fill="#050505" stroke="none"/>
<circle cx="1621.5" cy="2823.6" r="8.8" fill="#050505" stroke="none"/>
<circle cx="1686.6" cy="2718.8" r="8.8" fill="#050505" stroke="none"/>
<circle cx="1718.4" cy="2775.0" r="8.8" fill="#050505" stroke="none"/>
<circle cx="1782.0" cy="2709.0" r="8.8" fill="#050505" stroke="none"/>
<circle cx="1814.0" cy="2628.0" r="8.8" fill="#050505" stroke="none"/>
<circle cx="1846.8" cy="2538.0" r="8.8" fill="#050505" stroke="none"/>
<circle cx="1879.0" cy="2324.5" r="8.8" fill="#050505" stroke="none"/>
<circle cx="1944.0" cy="2355.0" r="8.8" fill="#050505" stroke="none"/>
<circle cx="1598.4" cy="1958.3" r="9.200000000000001" fill="#050505" stroke="none"/>
<circle cx="1607.2" cy="2046.8" r="8.4" fill="#fff" stroke-width="5.6"/>
</g>
<g fill="#050505">
<text transform="translate(1238.0 3026.0) scale(0.9346 1)" font-size="46.5" text-anchor="middle">-0.5</text>
<text transform="translate(1398.3 3026.0) scale(0.9346 1)" font-size="46.5" text-anchor="middle">0.0</text>
<text transform="translate(1558.6 3026.0) scale(0.9346 1)" font-size="46.5" text-anchor="middle">0.5</text>
<text transform="translate(1718.9 3026.0) scale(0.9346 1)" font-size="46.5" text-anchor="middle">1.0</text>
<text transform="translate(1879.2 3026.0) scale(0.9346 1)" font-size="46.5" text-anchor="middle">1.5</text>
<text transform="translate(2039.5 3026.0) scale(0.9346 1)" font-size="46.5" text-anchor="middle">2.0</text>
<text transform="translate(1375.8 2675.5) scale(0.9346 1)" font-size="46.5" text-anchor="end">10</text>
<text transform="translate(1375.8 2373.5) scale(0.9346 1)" font-size="46.5" text-anchor="end">20</text>
<text transform="translate(1375.8 2071.5) scale(0.9346 1)" font-size="46.5" text-anchor="end">30</text>
<text transform="translate(1375.8 1769.5) scale(0.9346 1)" font-size="46.5" text-anchor="end">40</text>
<text x="1667.8" y="1976" font-size="50.3">SP 24h</text>
<text x="1676.5" y="2063.8" font-size="50.3">SP 72h</text>
<text transform="translate(1644 1682.7) scale(0.97 1.035)" font-size="58" font-weight="bold" text-anchor="middle" stroke="#fff" stroke-width="1.2">SP</text>
<text x="1635" y="3101.4" font-size="50.0" font-weight="bold" text-anchor="middle">log dose (<tspan font-weight="normal">μ</tspan>g/mL)</text>
<text transform="translate(1294 2359) rotate(-90)" font-size="49.0" font-weight="bold" text-anchor="middle">effect %</text>
</g>
</svg>
</body></html>
